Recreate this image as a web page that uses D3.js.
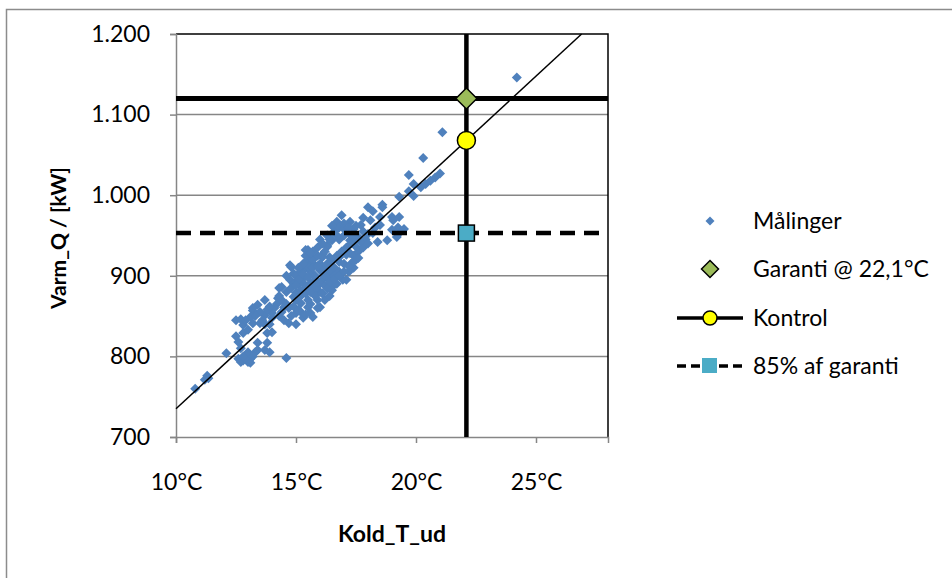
<!DOCTYPE html>
<html>
<head>
<meta charset="utf-8">
<script src="https://cdn.jsdelivr.net/npm/d3@7"></script>
<style>
  body { margin: 0; background: #fff; }
  svg text { font-family: Lato, "Open Sans", sans-serif; fill: #000; }
</style>
</head>
<body>
<svg id="chart" width="952" height="578"></svg>
<script>
// Målinger: [Kold_T_ud (°C), Varm_Q (kW)]
var maalinger = [
  [10.8,760],[11.2,771],[11.3,776],[11.35,773],[12.1,804],[12.5,845],[12.5,825],[12.8,829],
  [12.6,797],[12.7,793],[12.8,795],[12.9,800],[13.0,793],[13.1,797],[12.7,810],[13.0,805],
  [12.6,818],[13.3,805],[13.8,817],[13.7,808],[13.4,817],[13.2,857],[13.4,864],[13.7,851],
  [14.0,854],[13.8,829],[13.0,833],[12.8,839],[13.2,841],[14.7,841],[14.5,861],[14.6,798],
  [12.7,846],[13.2,860],[13.1,849],[13.7,870],[13.8,858],[14.3,885],[14.25,872],[14.75,895],
  [14.75,913],[14.9,903],[15.5,932],[15.5,920],[16.3,938],[16.4,923],[16.5,886],[16.0,907],
  [15.2,866],[15.6,854],[16.0,861],[15.9,882],[15.3,891],[15.0,879],[14.0,848],[13.5,841],
  [14.0,830],[13.9,805],[13.4,808],[14.4,886],[14.7,860],[14.9,874],[15.0,854],[15.5,861],
  [15.3,848],[15.7,849],[14.8,911],[15.3,897],[15.7,916],[16.1,895],[15.9,870],[16.5,882],
  [16.1,926],[16.8,923],[16.95,895],[17.4,910],[17.5,920],[17.25,928],[15.4,932],[16.3,936],
  [16.5,944],[17.25,944],[17.5,936],[17.1,926],[16.1,923],[15.7,920],[16.8,917],[16.9,975],
  [16.7,967],[17.25,967],[17.7,963],[18.1,969],[18.2,953],[18.4,942],[18.8,944],[18.0,985],
  [18.6,988],[18.5,973],[18.6,985],[19.0,973],[19.25,960],[19.05,969],[19.3,973],[19.0,957],
  [19.3,953],[19.9,999],[19.3,998],[19.7,1005],[19.9,1014],[20.2,1010],[20.4,1014],[20.6,1018],
  [20.8,1022],[21.0,1027],[19.7,1025],[20.3,1046],[21.1,1078],[24.2,1146],
  [15.0,900],[15.2,905],[15.4,910],[15.6,905],[15.8,900],[15.1,890],[15.4,885],[15.6,890],
  [15.8,895],[16.0,915],[16.2,910],[16.4,905],[16.6,910],[16.8,905],[16.2,900],[16.4,895],
  [16.6,900],[17.0,915],[17.2,905],[17.4,925],[17.6,930],[17.8,935],[17.9,945],[18.0,952],
  [17.6,948],[17.3,950],[17.0,950],[16.8,945],[16.6,955],[16.8,960],[17.0,965],[17.4,958],
  [17.8,955],[18.3,960],[18.5,963],[18.0,940],[17.7,942],[16.2,930],[15.9,925],[15.7,930],
  [15.5,912],[15.3,915],[15.1,910],[14.9,890],[14.6,880],[14.4,870],[14.2,865],[14.1,860],
  [14.3,850],[14.5,845],[14.8,850],[15.2,855],[15.6,865],[15.9,860],[16.2,870],[16.4,875],
  [14.6,900],[14.3,875],[13.9,862],[13.6,845],[13.9,840],[15.0,840],[16.0,880],[16.7,890],
  [17.1,895],[17.3,915],[16.0,945],[16.3,950],[16.5,962],[17.8,972],[18.2,980],[19.2,948],
  [19.5,958],
  [15.1,895],[15.3,902],[15.5,898],[15.7,910],[15.9,912],[16.1,905],[16.3,915],[16.5,920],
  [16.7,925],[16.9,930],[17.1,935],[17.3,940],[17.5,945],[15.0,870],[15.2,875],[15.4,878],
  [15.6,880],[15.8,885],[16.0,890],[16.2,888],[16.4,892],[16.6,896],[16.8,900],[17.0,905],
  [17.2,912],[17.4,918],[17.6,922],[14.8,885],[15.0,888],[15.2,882],[15.5,870],[15.8,875],
  [16.1,878],[16.3,884],[15.4,925],[15.6,928],[15.9,935],[16.1,940],[16.4,945],[16.7,950],
  [17.0,958],[17.2,960],[17.5,962],[14.4,855],[14.6,865],[14.9,862],[15.1,858],[15.4,852],
  [13.5,855],[13.7,840],[13.3,850],[12.9,845],[12.9,797],[13.1,792],[12.8,800],[13.2,800]
];

var garanti = [22.1, 1120];       // Garanti @ 22,1°C
var kontrol = [22.1, 1068];       // Kontrol
var garanti85 = [22.1, 953];      // 85% af garanti
var trendT = [10, 26.9];          // thin regression line
var trendQ = [735, 1200];

var xTicks = [10, 15, 20, 25];
var yTicks = [700, 800, 900, 1000, 1100, 1200];
var legendLabels = ["Målinger", "Garanti @ 22,1°C", "Kontrol", "85% af garanti"];

var BLUE = '#4F81BD', GREEN = '#9BBB59', CYAN = '#4BACC6', GRID = '#868686';

var svg = d3.select('#chart');
var x = d3.scaleLinear().domain([10, 28]).range([176, 608]);
var y = d3.scaleLinear().domain([700, 1200]).range([437, 34]);

var dk = d3.formatLocale({decimal: ',', thousands: '.', grouping: [3], currency: ['', ' kr']});
var fmt = dk.format(',d');

// outer chart frame
svg.append('rect')
    .attr('x', 6.5).attr('y', 9.5).attr('width', 980).attr('height', 600)
    .attr('fill', 'none').attr('stroke', '#8c8c8c').attr('stroke-width', 1.5);

// gridlines
svg.append('g').selectAll('line')
    .data(yTicks.slice(1, -1))
    .enter().append('line')
    .attr('x1', x(10)).attr('x2', x(28))
    .attr('y1', function (d) { return y(d); }).attr('y2', function (d) { return y(d); })
    .attr('stroke', GRID).attr('stroke-width', 1.5);

// plot border top + right
svg.append('path')
    .attr('d', 'M' + x(10) + ',' + y(1200) + 'H' + x(28) + 'V' + y(700))
    .attr('fill', 'none').attr('stroke', '#000').attr('stroke-width', 1.5);

// axes
var yAxis = svg.append('g')
    .attr('transform', 'translate(' + x(10) + ',0)')
    .call(d3.axisLeft(y).tickValues(yTicks).tickFormat(fmt).tickSize(6).tickPadding(20));
var xAxis = svg.append('g')
    .attr('transform', 'translate(0,' + y(700) + ')')
    .call(d3.axisBottom(x).tickValues(xTicks).tickFormat(function (d) { return d + '°C'; })
      .tickSize(6).tickPadding(31));
[yAxis, xAxis].forEach(function (g) {
  g.select('.domain').attr('stroke', GRID).attr('stroke-width', 1.5);
  g.selectAll('.tick line').attr('stroke', GRID).attr('stroke-width', 1.5);
  g.selectAll('.tick text').attr('font-size', 23).attr('font-family', 'Lato, sans-serif');
});

// axis titles
svg.append('text')
    .attr('x', 392).attr('y', 542)
    .attr('text-anchor', 'middle').attr('font-size', 23).attr('font-weight', 'bold')
    .text('Kold_T_ud');
svg.append('text')
    .attr('transform', 'translate(66,238) rotate(-90)')
    .attr('text-anchor', 'middle').attr('font-size', 21).attr('font-weight', 'bold')
    .text('Varm_Q / [kW]');

var plot = svg.append('g');

// scatter
plot.selectAll('.pt')
    .data(maalinger)
    .enter().append('path')
    .attr('class', 'pt')
    .attr('d', 'M0,-5L5,0L0,5L-5,0Z')
    .attr('transform', function (d) { return 'translate(' + x(d[0]) + ',' + y(d[1]) + ')'; })
    .attr('fill', BLUE);

// trend line
plot.append('line')
    .attr('x1', x(trendT[0])).attr('y1', y(trendQ[0]))
    .attr('x2', x(trendT[1])).attr('y2', y(trendQ[1]))
    .attr('stroke', '#000').attr('stroke-width', 1.5);

// guarantee lines
plot.append('line')
    .attr('x1', x(10)).attr('x2', x(28))
    .attr('y1', y(garanti[1])).attr('y2', y(garanti[1]))
    .attr('stroke', '#000').attr('stroke-width', 5);
plot.append('line')
    .attr('x1', x(garanti[0])).attr('x2', x(garanti[0]))
    .attr('y1', y(700)).attr('y2', y(1200))
    .attr('stroke', '#000').attr('stroke-width', 4.5);
plot.append('line')
    .attr('x1', x(10)).attr('x2', x(27.7))
    .attr('y1', y(garanti85[1])).attr('y2', y(garanti85[1]))
    .attr('stroke', '#000').attr('stroke-width', 4.5)
    .attr('stroke-dasharray', '15,9');

// markers
plot.append('path')
    .attr('d', 'M0,-10.5L10.5,0L0,10.5L-10.5,0Z')
    .attr('transform', 'translate(' + x(garanti[0]) + ',' + y(garanti[1]) + ')')
    .attr('fill', GREEN).attr('stroke', '#000').attr('stroke-width', 1.5);
plot.append('circle')
    .attr('cx', x(kontrol[0])).attr('cy', y(kontrol[1])).attr('r', 9)
    .attr('fill', '#FFFF00').attr('stroke', '#000').attr('stroke-width', 1.5);
plot.append('rect')
    .attr('x', x(garanti85[0]) - 8).attr('y', y(garanti85[1]) - 8)
    .attr('width', 16).attr('height', 16)
    .attr('fill', CYAN).attr('stroke', '#000').attr('stroke-width', 1.5);

// legend
var legendY = [221, 269, 318, 366];
var lg = svg.append('g');
lg.selectAll('text')
    .data(legendLabels)
    .enter().append('text')
    .attr('x', 753).attr('y', function (d, i) { return legendY[i]; })
    .attr('dy', '0.36em').attr('font-size', 23)
    .text(function (d) { return d; });

lg.append('path').attr('d', 'M0,-4.5L4.5,0L0,4.5L-4.5,0Z')
    .attr('transform', 'translate(710,' + legendY[0] + ')').attr('fill', BLUE);
lg.append('path').attr('d', 'M0,-8.5L8.5,0L0,8.5L-8.5,0Z')
    .attr('transform', 'translate(710,' + legendY[1] + ')')
    .attr('fill', GREEN).attr('stroke', '#000').attr('stroke-width', 1.5);
lg.append('line').attr('x1', 677).attr('x2', 743)
    .attr('y1', legendY[2]).attr('y2', legendY[2])
    .attr('stroke', '#000').attr('stroke-width', 3.5);
lg.append('circle').attr('cx', 710).attr('cy', legendY[2]).attr('r', 7)
    .attr('fill', '#FFFF00').attr('stroke', '#000').attr('stroke-width', 1.5);
lg.append('line').attr('x1', 677).attr('x2', 743)
    .attr('y1', legendY[3]).attr('y2', legendY[3])
    .attr('stroke', '#000').attr('stroke-width', 3.5)
    .attr('stroke-dasharray', '9,5');
lg.append('rect').attr('x', 702).attr('y', legendY[3] - 8)
    .attr('width', 15).attr('height', 15)
    .attr('fill', CYAN);
</script>
</body>
</html>
